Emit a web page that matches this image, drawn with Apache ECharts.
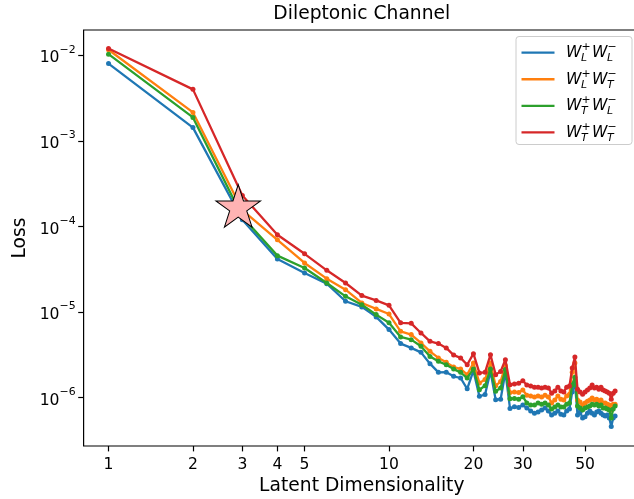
<!DOCTYPE html>
<html>
<head>
<meta charset="utf-8">
<title>Dileptonic Channel</title>
<script src="https://cdn.jsdelivr.net/npm/echarts@6.0.0/dist/echarts.min.js"></script>
<style>
  html, body { margin: 0; padding: 0; background: #ffffff; }
  #chart { width: 634px; height: 499px; }
</style>
</head>
<body>
<div id="chart"></div>
<script>
// Latent dimensionality scanned by the autoencoder
const dims = [1, 2, 3, 4, 5, 6, 7, 8, 9, 10, 11, 12, 13, 14, 15, 16, 17, 18, 19, 20,
  21, 22, 23, 24, 25, 26, 27, 28, 29, 30, 31, 32, 33, 34, 35, 36, 37, 38, 39, 40,
  41, 42, 43, 44, 45, 46, 47, 48, 49, 50, 51, 52, 53, 54, 55, 56, 57, 58, 59, 60,
  61, 62, 63, 64];

// Reconstruction loss per polarisation state
const lossLL = [8.0e-3, 1.43e-3, 1.2e-4, 4.18e-5, 2.87e-5, 2.15e-5, 1.34e-5, 1.15e-5, 8.8e-6, 6.25e-6,
  4.29e-6, 3.82e-6, 3.39e-6, 2.50e-6, 1.98e-6, 1.99e-6, 1.78e-6, 1.70e-6, 1.27e-6, 2.07e-6,
  1.04e-6, 1.09e-6, 2.03e-6, 9.5e-7, 9.6e-7, 2.0e-6, 7.5e-7, 7.85e-7, 7.7e-7, 8.2e-7,
  7.6e-7, 7.0e-7, 6.6e-7, 6.8e-7, 7.2e-7, 7.6e-7, 7.0e-7, 6.3e-7, 6.6e-7, 7.0e-7,
  6.4e-7, 6.3e-7, 7.0e-7, 7.4e-7, 1.17e-6, 1.52e-6, 6.3e-7, 6.8e-7, 5.8e-7, 6.0e-7,
  6.6e-7, 7.0e-7, 6.6e-7, 6.3e-7, 6.8e-7, 7.0e-7, 6.6e-7, 6.3e-7, 6.1e-7, 6.3e-7,
  5.8e-7, 4.6e-7, 5.8e-7, 6.1e-7];

const lossLT = [1.16e-2, 2.15e-3, 1.55e-4, 7.0e-5, 3.75e-5, 2.46e-5, 1.83e-5, 1.28e-5, 1.09e-5, 9.5e-6,
  5.97e-6, 5.46e-6, 4.37e-6, 3.48e-6, 2.92e-6, 2.59e-6, 2.28e-6, 2.17e-6, 1.86e-6, 2.55e-6,
  1.49e-6, 1.63e-6, 2.55e-6, 1.38e-6, 1.55e-6, 2.37e-6, 1.15e-6, 1.17e-6, 1.15e-6, 1.23e-6,
  1.07e-6, 1.05e-6, 1.02e-6, 1.05e-6, 1.02e-6, 1.07e-6, 1.02e-6, 8.7e-7, 9.4e-7, 1.05e-6,
  9.6e-7, 9.4e-7, 1.05e-6, 1.10e-6, 1.99e-6, 2.54e-6, 9.4e-7, 8.9e-7, 8.2e-7, 8.7e-7,
  9.1e-7, 9.4e-7, 9.9e-7, 9.4e-7, 9.6e-7, 8.9e-7, 9.4e-7, 8.7e-7, 8.7e-7, 8.4e-7,
  8.2e-7, 7.2e-7, 8.4e-7, 8.4e-7];

const lossTL = [1.03e-2, 1.88e-3, 1.3e-4, 4.57e-5, 3.28e-5, 2.19e-5, 1.53e-5, 1.22e-5, 9.35e-6, 7.5e-6,
  5.13e-6, 4.77e-6, 3.99e-6, 3.04e-6, 2.66e-6, 2.43e-6, 2.16e-6, 1.98e-6, 1.70e-6, 2.17e-6,
  1.24e-6, 1.38e-6, 2.17e-6, 1.19e-6, 1.30e-6, 2.13e-6, 9.7e-7, 9.8e-7, 9.6e-7, 1.03e-6,
  8.7e-7, 8.2e-7, 8.2e-7, 8.7e-7, 8.4e-7, 8.7e-7, 8.2e-7, 7.4e-7, 7.8e-7, 8.2e-7,
  7.8e-7, 7.8e-7, 8.4e-7, 8.7e-7, 1.41e-6, 1.74e-6, 8.0e-7, 7.6e-7, 7.2e-7, 7.6e-7,
  7.8e-7, 8.0e-7, 8.4e-7, 8.2e-7, 8.4e-7, 8.0e-7, 8.2e-7, 7.6e-7, 7.6e-7, 7.4e-7,
  7.2e-7, 5.8e-7, 7.4e-7, 8.0e-7];

const lossTT = [1.20e-2, 4.0e-3, 2.3e-4, 8.0e-5, 4.8e-5, 3.08e-5, 2.19e-5, 1.56e-5, 1.37e-5, 1.20e-5,
  7.5e-6, 7.4e-6, 5.71e-6, 4.56e-6, 4.29e-6, 3.82e-6, 3.15e-6, 2.92e-6, 2.43e-6, 3.27e-6,
  1.95e-6, 1.98e-6, 3.18e-6, 1.86e-6, 2.03e-6, 2.78e-6, 1.42e-6, 1.45e-6, 1.48e-6, 1.58e-6,
  1.41e-6, 1.37e-6, 1.33e-6, 1.33e-6, 1.30e-6, 1.33e-6, 1.30e-6, 1.13e-6, 1.20e-6, 1.33e-6,
  1.20e-6, 1.17e-6, 1.33e-6, 1.37e-6, 2.22e-6, 2.99e-6, 1.26e-6, 1.17e-6, 1.10e-6, 1.17e-6,
  1.23e-6, 1.30e-6, 1.41e-6, 1.30e-6, 1.33e-6, 1.26e-6, 1.33e-6, 1.23e-6, 1.20e-6, 1.17e-6,
  1.13e-6, 9.6e-7, 1.13e-6, 1.20e-6];

// Chosen working point
const starPoint = [2.9, 1.64e-4];

// Axis ticks
const xTicks = [1, 2, 3, 4, 5, 10, 20, 30, 50];
const yTicks = [1e-6, 1e-5, 1e-4, 1e-3, 1e-2];

// Polarisation of W+ and W- for each curve
const polarisations = [['L', 'L'], ['L', 'T'], ['T', 'L'], ['T', 'T']];
const lossSets = [lossLL, lossLT, lossTL, lossTT];
const colors = ['#1f77b4', '#ff7f0e', '#2ca02c', '#d62728'];

const FONT = '"DejaVu Sans"';
const chart = echarts.init(document.getElementById('chart'), null, { renderer: 'canvas' });

const lineSeries = lossSets.map((vals, i) => ({
  type: 'line',
  name: 'W' + polarisations[i][0] + 'W' + polarisations[i][1],
  data: dims.map((d, j) => [d, vals[j]]),
  symbol: 'circle',
  symbolSize: 5,
  showSymbol: true,
  lineStyle: { width: 2.3, color: colors[i] },
  itemStyle: { color: colors[i] },
  emphasis: { disabled: true },
  z: 2 + i,
  animation: false
}));

const starPath = 'path://M95.1 0L117.55 69.1L190.2 69.1L131.43 111.8L153.88 180.9L95.1 138.2L36.32 180.9L58.77 111.8L0 69.1L72.65 69.1Z';

// Legend drawn with math-style sub/superscripts
const legendItems = [{
  type: 'rect',
  shape: { x: 516, y: 36.5, width: 116, height: 108, r: 3 },
  style: { fill: 'rgba(255,255,255,0.8)', stroke: '#cccccc', lineWidth: 1 },
  z: 100
}];
function txt(x, y, text, size, italic) {
  return {
    type: 'text', z: 101,
    style: {
      x: x, y: y, text: text, fill: '#000',
      font: (italic ? 'italic ' : '') + size + 'px ' + FONT,
      textAlign: 'left', textVerticalAlign: 'middle', align: 'left', verticalAlign: 'middle'
    }
  };
}
polarisations.forEach((p, i) => {
  const y = 52.7 + i * 26.55;
  legendItems.push({
    type: 'line', z: 101,
    shape: { x1: 521.5, y1: y, x2: 554.5, y2: y },
    style: { stroke: colors[i], lineWidth: 2.3 }
  });
  legendItems.push(txt(566, y + 0.6, 'W', 15.6, true));
  legendItems.push(txt(581, y + 5.8, p[0], 10.9, true));
  legendItems.push(txt(581.5, y - 5.4, '+', 10.9, false));
  legendItems.push(txt(592, y + 0.6, 'W', 15.6, true));
  legendItems.push(txt(607, y + 5.8, p[1], 10.9, true));
  legendItems.push(txt(607.5, y - 5.4, '\u2212', 10.9, false));
});

const option = {
  animation: false,
  backgroundColor: '#ffffff',
  title: {
    text: 'Dileptonic Channel',
    left: 361.8, top: 4.9, textAlign: 'center', padding: 0,
    textStyle: { fontFamily: FONT, fontSize: 18.7, fontWeight: 'normal', color: '#000' }
  },
  grid: {
    left: 83.6, top: 30, width: 556.4, height: 416,
    show: true, borderColor: '#000', borderWidth: 1.2,
    outerBoundsMode: 'none', containLabel: false
  },
  xAxis: {
    type: 'log', logBase: 10, min: 0.815, max: 78.5,
    name: 'Latent Dimensionality', nameLocation: 'middle', nameGap: 31,
    nameMoveOverlap: false,
    nameTextStyle: { fontFamily: FONT, fontSize: 18.7, color: '#000' },
    axisLine: { show: false },
    axisTick: { show: true, customValues: xTicks, length: 5.4, inside: false,
      lineStyle: { color: '#000', width: 1.2 } },
    axisLabel: { customValues: xTicks, formatter: v => String(Math.round(v)),
      fontFamily: FONT, fontSize: 15.6, color: '#000', margin: 11 },
    splitLine: { show: false }, minorTick: { show: false }, minorSplitLine: { show: false }
  },
  yAxis: {
    type: 'log', logBase: 10, min: 2.73e-7, max: 1.975e-2,
    name: 'Loss', nameLocation: 'middle', nameGap: 54, nameRotate: 90,
    nameMoveOverlap: false,
    nameTextStyle: { fontFamily: FONT, fontSize: 18.7, color: '#000' },
    axisLine: { show: false },
    axisTick: { show: true, customValues: yTicks, length: 5.4, inside: false,
      lineStyle: { color: '#000', width: 1.2 } },
    axisLabel: {
      customValues: yTicks, margin: 8, color: '#000',
      formatter: v => '{b|10}{s|\u2212' + (-Math.round(Math.log10(v))) + '}',
      rich: {
        b: { fontFamily: FONT, fontSize: 15.6, lineHeight: 22, verticalAlign: 'bottom', color: '#000' },
        s: { fontFamily: FONT, fontSize: 10.9, lineHeight: 11, verticalAlign: 'top', color: '#000' }
      }
    },
    splitLine: { show: false }, minorTick: { show: false }, minorSplitLine: { show: false }
  },
  tooltip: { show: false },
  series: lineSeries.concat([{
    type: 'scatter',
    name: 'working point',
    data: [starPoint],
    symbol: starPath,
    symbolSize: [44.7, 42.5],
    symbolOffset: [0, -2.2],
    itemStyle: { color: '#ffb3b3', borderColor: '#000', borderWidth: 1, opacity: 1 },
    emphasis: { disabled: true },
    z: 20,
    animation: false
  }]),
  graphic: legendItems
};

chart.setOption(option);
</script>
</body>
</html>
